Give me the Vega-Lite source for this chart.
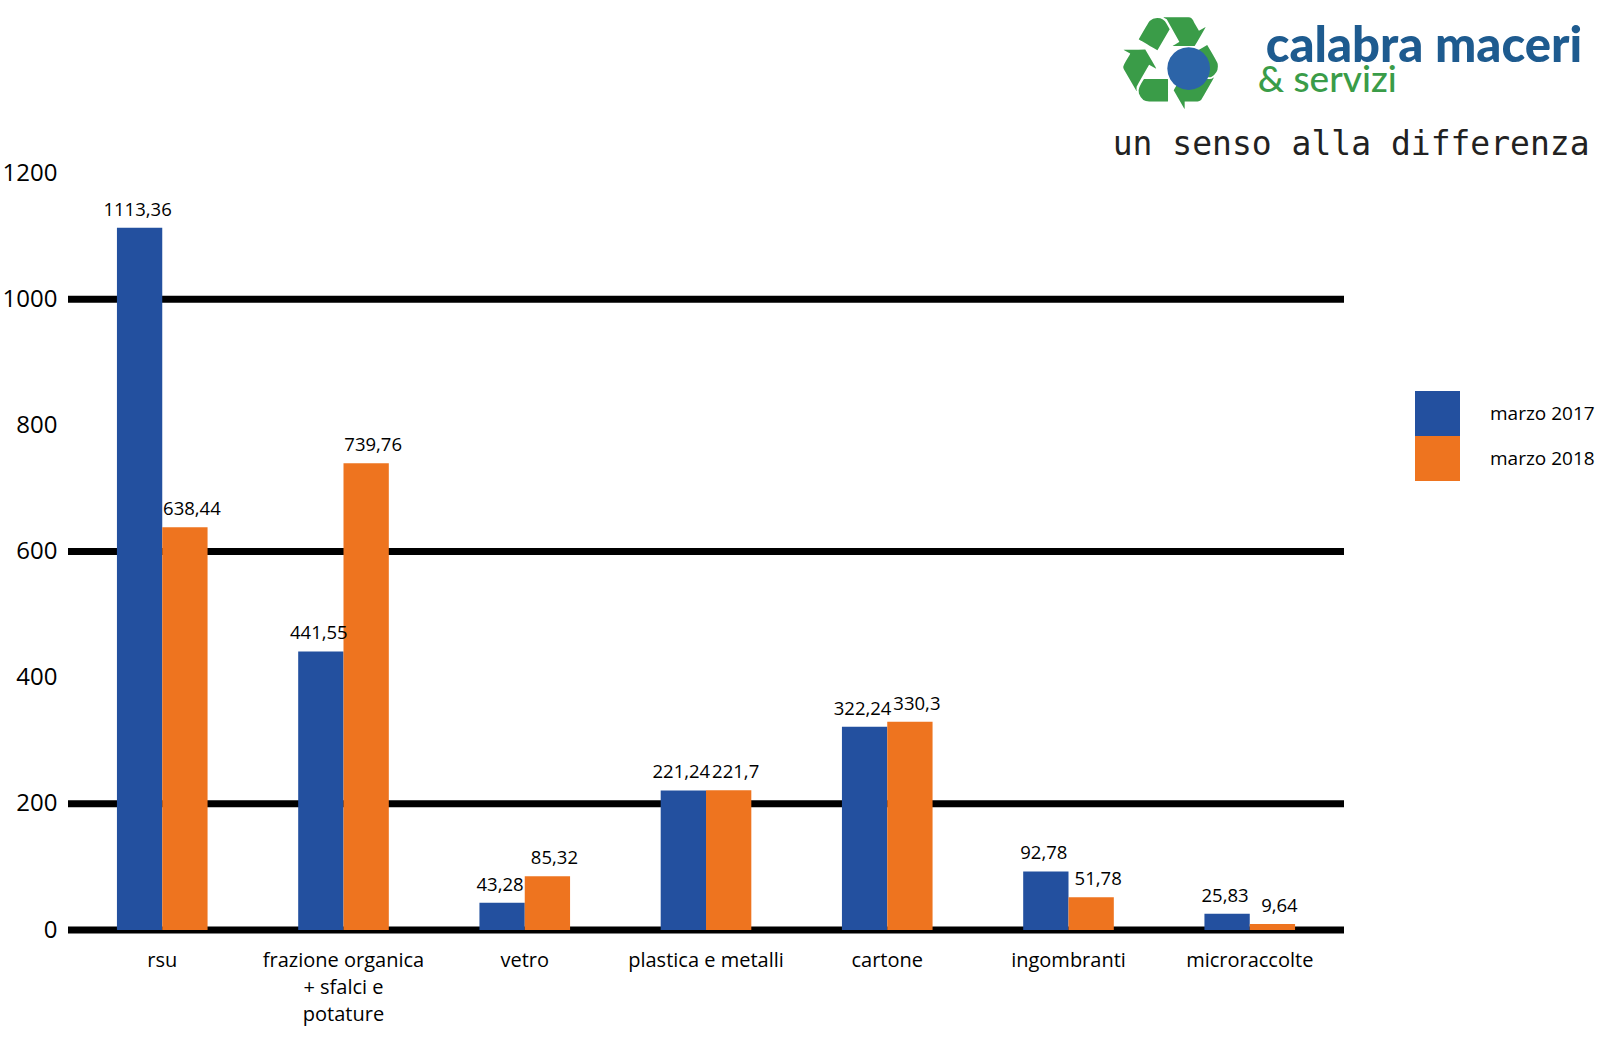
{
  "$schema": "https://vega.github.io/schema/vega-lite/v6.json",
  "autosize": "none",
  "width": 1276,
  "height": 757,
  "padding": {"left": 68, "top": 173, "right": 256, "bottom": 124},
  "background": "white",
  "config": {
    "view": {"stroke": null},
    "font": "Open Sans",
    "locale": {"number": {"decimal": ",", "thousands": ".", "grouping": [3], "currency": ["€", ""]}}
  },
  "datasets": {
    "bars": [
      {"categoria": "rsu", "periodo": "marzo 2017", "valore": 1113.36},
      {"categoria": "rsu", "periodo": "marzo 2018", "valore": 638.44},
      {"categoria": "frazione organica + sfalci e potature", "periodo": "marzo 2017", "valore": 441.55},
      {"categoria": "frazione organica + sfalci e potature", "periodo": "marzo 2018", "valore": 739.76},
      {"categoria": "vetro", "periodo": "marzo 2017", "valore": 43.28},
      {"categoria": "vetro", "periodo": "marzo 2018", "valore": 85.32},
      {"categoria": "plastica e metalli", "periodo": "marzo 2017", "valore": 221.24},
      {"categoria": "plastica e metalli", "periodo": "marzo 2018", "valore": 221.7},
      {"categoria": "cartone", "periodo": "marzo 2017", "valore": 322.24},
      {"categoria": "cartone", "periodo": "marzo 2018", "valore": 330.3},
      {"categoria": "ingombranti", "periodo": "marzo 2017", "valore": 92.78},
      {"categoria": "ingombranti", "periodo": "marzo 2018", "valore": 51.78},
      {"categoria": "microraccolte", "periodo": "marzo 2017", "valore": 25.83},
      {"categoria": "microraccolte", "periodo": "marzo 2018", "valore": 9.64}
    ],
    "griglia": [{"v": 0}, {"v": 200}, {"v": 600}, {"v": 1000}]
  },
  "layer": [
    {
      "data": {"name": "griglia"},
      "mark": {"type": "rule", "color": "black", "strokeWidth": 7},
      "encoding": {"y": {"field": "v", "type": "quantitative", "scale": {"domain": [0, 1200], "nice": false}}}
    },
    {
      "data": {"name": "bars"},
      "mark": {"type": "bar"},
      "encoding": {
        "x": {
          "field": "categoria", "type": "nominal", "sort": null,
          "scale": {"paddingInner": 0.5, "paddingOuter": 0.27},
          "axis": {
            "title": null, "domain": false, "ticks": false, "tickSize": 0,
            "labelFontSize": 20, "labelColor": "black", "labelPadding": 20, "labelAngle": 0,
            "labelLineHeight": 27, "labelLimit": 400,
            "labelExpr": "datum.value == 'frazione organica + sfalci e potature' ? ['frazione organica', '+ sfalci e', 'potature'] : datum.value"
          }
        },
        "xOffset": {"field": "periodo", "type": "nominal", "scale": {"paddingInner": 0, "paddingOuter": 0}},
        "y": {
          "field": "valore", "type": "quantitative",
          "scale": {"domain": [0, 1200], "nice": false},
          "axis": {
            "title": null, "domain": false, "ticks": false, "tickSize": 0, "grid": false,
            "values": [0, 200, 400, 600, 800, 1000, 1200], "format": "d",
            "labelFontSize": 24, "labelColor": "black", "labelPadding": 11
          }
        },
        "color": {
          "field": "periodo", "type": "nominal",
          "scale": {"domain": ["marzo 2017", "marzo 2018"], "range": ["#23509f", "#ee741f"]},
          "legend": {
            "title": null, "orient": "none", "legendX": 1347, "legendY": 218,
            "symbolType": "square", "symbolSize": 2025, "symbolStrokeWidth": 0, "symbolOpacity": 1,
            "rowPadding": 0, "labelOffset": 30, "labelFontSize": 19, "labelColor": "black", "padding": 0
          }
        }
      }
    },
    {
      "data": {"name": "bars"},
      "transform": [{"filter": "datum.periodo == 'marzo 2017'"}],
      "mark": {"type": "text", "baseline": "alphabetic", "dy": -12, "dx": -2, "fontSize": 18.5, "color": "black"},
      "encoding": {
        "x": {"field": "categoria", "type": "nominal", "sort": null},
        "xOffset": {"datum": "marzo 2017"},
        "y": {"field": "valore", "type": "quantitative"},
        "text": {"field": "valore", "type": "quantitative", "format": ".2~f"}
      }
    },
    {
      "data": {"name": "bars"},
      "transform": [{"filter": "datum.periodo == 'marzo 2018'"}],
      "mark": {"type": "text", "baseline": "alphabetic", "dy": -12, "dx": 7, "fontSize": 18.5, "color": "black"},
      "encoding": {
        "x": {"field": "categoria", "type": "nominal", "sort": null},
        "xOffset": {"datum": "marzo 2018"},
        "y": {"field": "valore", "type": "quantitative"},
        "text": {"field": "valore", "type": "quantitative", "format": ".2~f"}
      }
    },
    {
      "data": {"values": [{"t": "♻"}]},
      "mark": {"type": "text", "font": "DejaVu Sans", "fontSize": 130, "color": "#3a9c48", "align": "center", "baseline": "middle", "dx": -79},
      "encoding": {"x": {"datum": "microraccolte"}, "y": {"datum": 1364}, "text": {"field": "t"}}
    },
    {
      "data": {"values": [{"t": "●"}]},
      "mark": {"type": "text", "font": "DejaVu Sans", "fontSize": 56, "color": "#2c64a8", "align": "center", "baseline": "middle", "dx": -61},
      "encoding": {"x": {"datum": "microraccolte"}, "y": {"datum": 1369}, "text": {"field": "t"}}
    },
    {
      "data": {"values": [{"t": "calabra maceri"}]},
      "mark": {"type": "text", "font": "Lato", "fontWeight": 900, "fontSize": 49, "color": "#1e5b8f", "align": "left", "baseline": "alphabetic", "dx": 16},
      "encoding": {"x": {"datum": "microraccolte"}, "y": {"datum": 1376}, "text": {"field": "t"}}
    },
    {
      "data": {"values": [{"t": "& servizi"}]},
      "mark": {"type": "text", "font": "Lato", "fontWeight": 500, "fontSize": 37, "color": "#3a9c48", "align": "left", "baseline": "alphabetic", "dx": 8},
      "encoding": {"x": {"datum": "microraccolte"}, "y": {"datum": 1329}, "text": {"field": "t"}}
    },
    {
      "data": {"values": [{"t": "un senso alla differenza"}]},
      "mark": {"type": "text", "font": "DejaVu Sans Mono", "fontSize": 33, "color": "#222222", "align": "left", "baseline": "alphabetic", "dx": -137},
      "encoding": {"x": {"datum": "microraccolte"}, "y": {"datum": 1228}, "text": {"field": "t"}}
    }
  ]
}
